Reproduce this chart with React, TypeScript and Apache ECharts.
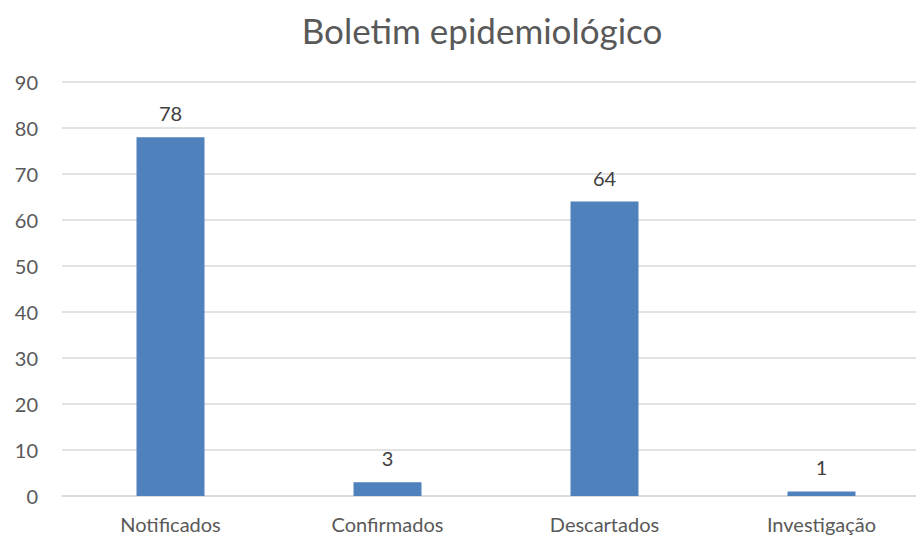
import React, { useEffect, useRef } from "react";
import * as echarts from "echarts";

const title = "Boletim epidemiológico";
const categories = ["Notificados", "Confirmados", "Descartados", "Investigação"];
const values = [78, 3, 64, 1];
const yMin = 0;
const yMax = 90;
const yInterval = 10;

export default function App() {
  const ref = useRef<HTMLDivElement>(null);
  useEffect(() => {
    if (!ref.current) return;
    const chart = echarts.init(ref.current, null, { renderer: "svg" });
    const font = "Lato, 'Open Sans', sans-serif";
    chart.setOption({
      animation: false,
      backgroundColor: "#ffffff",
      title: {
        text: title,
        left: 477,
        textAlign: "center",
        top: 7,
        textStyle: { color: "#595959", fontSize: 35, fontWeight: "normal", fontFamily: font },
      },
      grid: { left: 62, right: 0, top: 82, bottom: 45 },
      xAxis: {
        type: "category",
        data: categories,
        axisLine: { lineStyle: { color: "#d9d9d9", width: 1.5 } },
        axisTick: { show: false },
        axisLabel: { color: "#595959", fontSize: 20, fontFamily: font, margin: 18 },
      },
      yAxis: {
        type: "value",
        min: yMin,
        max: yMax,
        interval: yInterval,
        axisLine: { show: false },
        axisTick: { show: false },
        axisLabel: { color: "#595959", fontSize: 20, fontFamily: font, margin: 24 },
        splitLine: { lineStyle: { color: "#d9d9d9", width: 1.5 } },
      },
      series: [
        {
          type: "bar",
          data: values,
          barWidth: 68,
          itemStyle: { color: "#4f81bd" },
          label: {
            show: true,
            position: "top",
            distance: 14,
            color: "#404040",
            fontSize: 20,
            fontFamily: font,
          },
        },
      ],
    });
    return () => chart.dispose();
  }, []);
  return (
    <div
      style={{ position: "absolute", left: 0, top: 0, width: 916, height: 541, overflow: "hidden" }}
    >
      <div ref={ref} style={{ width: 930, height: 541 }} />
    </div>
  );
}
